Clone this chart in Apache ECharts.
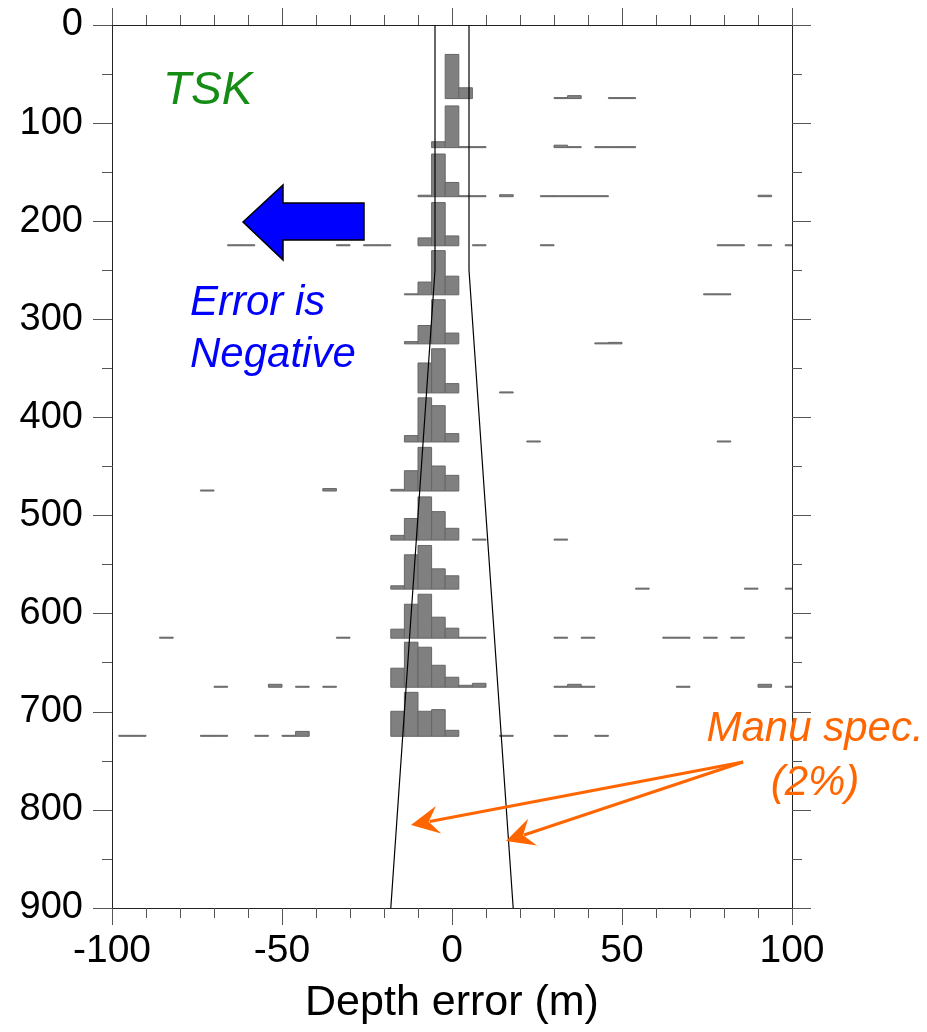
<!DOCTYPE html>
<html>
<head>
<meta charset="utf-8">
<script src="https://cdn.jsdelivr.net/npm/echarts@6/dist/echarts.min.js"></script>
<style>
  html, body { margin: 0; padding: 0; background: #fff; }
  #chart { width: 927px; height: 1032px; }
</style>
</head>
<body>
<div id="chart"></div>
<script>
// Depth (m) of each histogram baseline
const rowDepths = [75, 125, 175, 225, 275, 325, 375, 425, 475, 525, 575, 625, 675, 725];

// Histogram bins per depth row: [bin centre error (m), bar height (m of depth axis)]
const hist075 = [[0, 45], [4, 11], [32, 1], [36, 3], [48, 1], [52, 1]];
const hist125 = [[-4, 6], [0, 42.5], [4, 1], [8, 1], [32, 2.5], [36, 1], [44, 1], [48, 1], [52, 1]];
const hist175 = [[-8, 1.5], [-4, 43.5], [0, 14.5], [4, 1], [8, 1], [16, 2], [28, 1], [32, 1], [36, 1], [40, 1], [44, 1], [92, 1.5]];
const hist225 = [[-64, 1], [-60, 1], [-32, 1], [-24, 1], [-20, 1], [-8, 8], [-4, 44], [0, 10], [8, 1], [28, 1], [80, 1], [84, 1], [92, 1], [100, 1]];
const hist275 = [[-12, 1], [-8, 13], [-4, 45], [0, 19], [76, 1], [80, 1]];
const hist325 = [[-12, 2.3], [-8, 18.7], [-4, 45], [0, 11], [44, 1], [48, 1.5]];
const hist375 = [[-8, 30.5], [-4, 45], [0, 9.5], [16, 1]];
const hist425 = [[-12, 6.5], [-8, 45], [-4, 37], [0, 8.5], [24, 1], [80, 1]];
const hist475 = [[-72, 1], [-36, 2.5], [-16, 1.7], [-12, 20.7], [-8, 44.5], [-4, 25.5], [0, 16]];
const hist525 = [[-16, 4.8], [-12, 22], [-8, 44], [-4, 29], [0, 12], [8, 1], [32, 1]];
const hist575 = [[-16, 3.4], [-12, 35], [-8, 44.5], [-4, 20.7], [0, 13.6], [56, 1], [88, 1], [100, 1]];
const hist625 = [[-84, 1], [-32, 1], [-16, 9.2], [-12, 34.6], [-8, 44.8], [-4, 21.4], [0, 10.2], [4, 1], [8, 1],
                 [32, 1], [40, 1], [64, 1], [68, 1], [76, 1], [84, 1], [100, 1]];
const hist675 = [[-68, 1], [-52, 3], [-44, 1], [-36, 1], [-16, 19.4], [-12, 45.9], [-8, 40.8], [-4, 22.4], [0, 10.2],
                 [4, 2], [8, 4], [32, 1], [36, 3], [40, 1], [68, 1], [92, 3], [100, 1]];
const hist725 = [[-96, 1], [-92, 1], [-72, 1], [-68, 1], [-56, 1], [-48, 1], [-44, 5], [-16, 25.5], [-12, 44.8],
                 [-8, 25.5], [-4, 27.2], [0, 6.1], [16, 1], [32, 1], [44, 1]];

const histRows = [hist075, hist125, hist175, hist225, hist275, hist325, hist375,
                  hist425, hist475, hist525, hist575, hist625, hist675, hist725];
const binWidth = 4;

// Manufacturer specification envelope: max(5 m, 2% of depth)
const specDepth = [0, 250, 900];
const specHalfWidth = [5, 5, 18];

const FONT = '"Liberation Sans", Arial, Helvetica, sans-serif';

const barData = [];
histRows.forEach((bins, i) => {
  bins.forEach(([c, h]) => barData.push([c, rowDepths[i], h]));
});

const specLeft = specDepth.map((d, i) => [-specHalfWidth[i], d]);
const specRight = specDepth.map((d, i) => [specHalfWidth[i], d]);

const chart = echarts.init(document.getElementById('chart'), null, { renderer: 'canvas' });

const tickStyle = { color: '#555', width: 1 };
const xAxisBase = {
  type: 'value', min: -100, max: 100, interval: 50,
  axisLine: { show: true, onZero: false, lineStyle: { color: '#222', width: 1 } },
  axisTick: { show: true, inside: false, length: 17, lineStyle: tickStyle },
  minorTick: { show: true, splitNumber: 5, length: 10, lineStyle: tickStyle },
  splitLine: { show: false }, minorSplitLine: { show: false }
};
const yAxisBase = {
  type: 'value', min: 0, max: 900, interval: 100, inverse: true,
  axisLine: { show: true, onZero: false, lineStyle: { color: '#222', width: 1 } },
  axisTick: { show: true, inside: false, length: 19, lineStyle: tickStyle },
  minorTick: { show: true, splitNumber: 2, length: 10, lineStyle: tickStyle },
  splitLine: { show: false }, minorSplitLine: { show: false }
};

// Swept arrowhead polygon pointing from `from` to `to`
function arrowHead(from, to, len, half, notch) {
  const dx = to[0] - from[0], dy = to[1] - from[1];
  const L = Math.hypot(dx, dy);
  const ux = dx / L, uy = dy / L, px = -uy, py = ux;
  const bx = to[0] - ux * len, by = to[1] - uy * len;
  return {
    points: [
      to,
      [bx + px * half, by + py * half],
      [to[0] - ux * notch, to[1] - uy * notch],
      [bx - px * half, by - py * half]
    ],
    neck: [to[0] - ux * (notch + 1), to[1] - uy * (notch + 1)]
  };
}

const orange = '#ff6600';
const arrowStart = [743, 762];
const arrowTips = [[411, 825], [506, 841]];
const orangeArrows = [];
arrowTips.forEach(tip => {
  const head = arrowHead(arrowStart, tip, 28, 14, 18);
  orangeArrows.push({
    type: 'polyline', shape: { points: [arrowStart, head.neck] },
    style: { stroke: orange, lineWidth: 3, fill: null }, z: 100
  });
  orangeArrows.push({
    type: 'polygon', shape: { points: head.points },
    style: { fill: orange, stroke: null }, z: 100
  });
});

chart.setOption({
  backgroundColor: '#fff',
  animation: false,
  grid: { left: 112, top: 25, width: 680, height: 883, containLabel: false },
  xAxis: [
    Object.assign({}, xAxisBase, {
      position: 'bottom',
      axisLabel: { show: true, fontFamily: FONT, fontSize: 39, color: '#000', margin: 24 },
      name: 'Depth error (m)', nameLocation: 'middle', nameGap: 74,
      nameTextStyle: { fontFamily: FONT, fontSize: 43, color: '#000' }
    }),
    Object.assign({}, xAxisBase, { position: 'top', axisLabel: { show: false } })
  ],
  yAxis: [
    Object.assign({}, yAxisBase, {
      position: 'left',
      axisLabel: { show: true, fontFamily: FONT, fontSize: 38, color: '#000', margin: 29 }
    }),
    Object.assign({}, yAxisBase, { position: 'right', axisLabel: { show: false } })
  ],
  series: [
    {
      type: 'custom',
      xAxisIndex: 0, yAxisIndex: 0,
      clip: true,
      data: barData,
      renderItem: function (params, api) {
        const c = api.value(0), base = api.value(1), h = api.value(2);
        const p0 = api.coord([c - binWidth / 2, base]);
        const p1 = api.coord([c + binWidth / 2, base - h]);
        const rect = echarts.graphic.clipRectByRect({
          x: p0[0], y: p1[1], width: p1[0] - p0[0], height: p0[1] - p1[1]
        }, {
          x: params.coordSys.x, y: params.coordSys.y,
          width: params.coordSys.width, height: params.coordSys.height
        });
        if (!rect) return null;
        return {
          type: 'rect', shape: rect,
          style: { fill: '#808080', stroke: '#666', lineWidth: 1 }
        };
      },
      z: 2
    },
    {
      type: 'line', data: specLeft, symbol: 'none', silent: true,
      lineStyle: { color: '#000', width: 1.2 }, z: 5
    },
    {
      type: 'line', data: specRight, symbol: 'none', silent: true,
      lineStyle: { color: '#000', width: 1.2 }, z: 5
    }
  ],
  graphic: [
    {
      type: 'text', x: 163, y: 91, z: 100,
      style: { text: 'TSK', font: 'italic 46px ' + FONT, fill: '#158c15', verticalAlign: 'middle', align: 'left' }
    },
    {
      type: 'polygon', z: 100,
      shape: { points: [[243, 222], [283, 185], [283, 203], [364, 203], [364, 240], [283, 240], [283, 260]] },
      style: { fill: '#0000ff', stroke: '#000', lineWidth: 1.5 }
    },
    {
      type: 'text', x: 190, y: 303, z: 100,
      style: { text: 'Error is', font: 'italic 42px ' + FONT, fill: '#0000ff', verticalAlign: 'middle', align: 'left' }
    },
    {
      type: 'text', x: 190, y: 355, z: 100,
      style: { text: 'Negative', font: 'italic 42px ' + FONT, fill: '#0000ff', verticalAlign: 'middle', align: 'left' }
    },
    {
      type: 'text', x: 815, y: 729, z: 100,
      style: { text: 'Manu spec.', font: 'italic 42px ' + FONT, fill: orange, verticalAlign: 'middle', align: 'center' }
    },
    {
      type: 'text', x: 815, y: 783, z: 100,
      style: { text: '(2%)', font: 'italic 42px ' + FONT, fill: orange, verticalAlign: 'middle', align: 'center' }
    }
  ].concat(orangeArrows)
});
</script>
</body>
</html>
